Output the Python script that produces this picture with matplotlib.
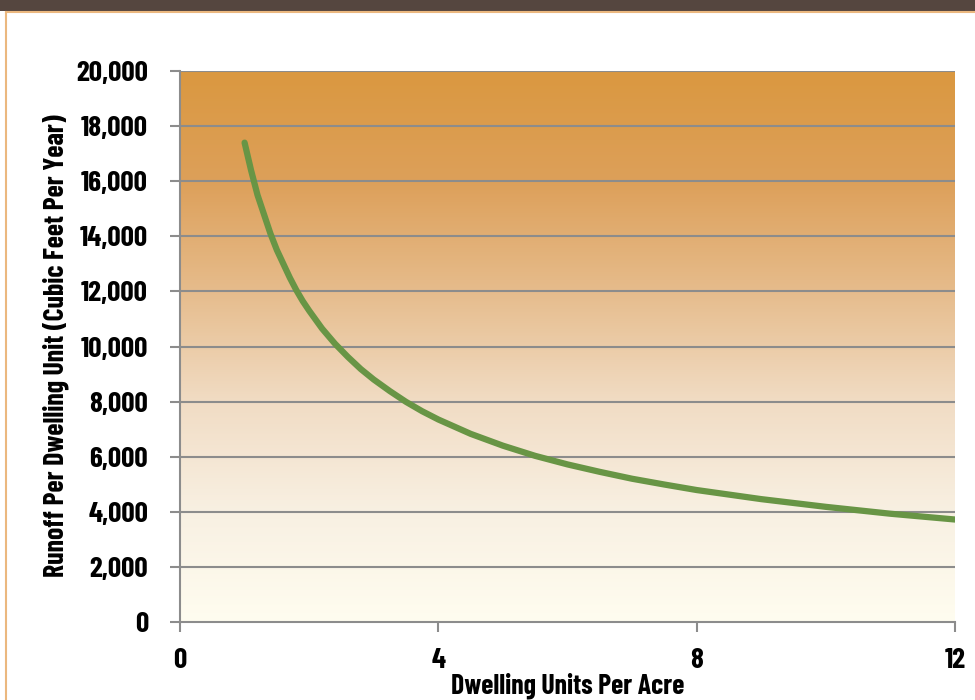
import numpy as np
import matplotlib
matplotlib.use("Agg")
import matplotlib.pyplot as plt
from matplotlib.colors import LinearSegmentedColormap
from matplotlib.lines import Line2D
from matplotlib.patches import Rectangle

# ===== DATA =====
density = [1.0, 1.1, 1.2, 1.3, 1.4, 1.5, 1.6, 1.7, 1.8, 1.9, 2.0, 2.2, 2.4, 2.6, 2.8,
           3.0, 3.25, 3.5, 3.75, 4.0, 4.5, 5.0, 5.5, 6.0, 6.5, 7.0, 7.5, 8.0, 9.0,
           10.0, 11.0, 12.0]
runoff = [17400, 16400, 15500, 14800, 14100, 13500, 13000, 12500, 12050, 11650, 11300,
          10650, 10100, 9620, 9180, 8800, 8380, 7990, 7650, 7350, 6830, 6400, 6030,
          5720, 5450, 5200, 4990, 4790, 4460, 4180, 3930, 3720]
x_ticks = [0, 4, 8, 12]
y_ticks = list(range(0, 20001, 2000))
x_label = "Dwelling Units Per Acre"
y_label = "Runoff Per Dwelling Unit (Cubic Feet Per Year)"

FONT = ["Barlow Condensed", "DejaVu Sans"]
plt.rcParams["font.family"] = FONT
plt.rcParams["font.weight"] = "bold"

GRID = "#8c8c8c"
GREEN = "#689545"

fig = plt.figure(figsize=(9.75, 7.0), dpi=100)
fig.patch.set_facecolor("white")

# frame decorations: dark band on top, orange rule below it and down the left
fig.add_artist(Rectangle((0, 1 - 11 / 700), 1, 11 / 700, transform=fig.transFigure,
                         facecolor="#55463f", edgecolor="none"))
fig.add_artist(Line2D([6 / 975, 1], [1 - 12 / 700] * 2, transform=fig.transFigure,
                      color="#ebb87f", lw=1.5))
fig.add_artist(Line2D([6 / 975] * 2, [0, 1 - 12 / 700], transform=fig.transFigure,
                      color="#ebb87f", lw=1.5))

ax = fig.add_axes([180 / 975, 1 - 622 / 700, 775 / 975, 551 / 700])

# gradient background, orange at top fading to cream
grad = LinearSegmentedColormap.from_list("bg", [
    (0.0, "#fffdf0"), (0.2, "#f8f0e2"), (0.4, "#f1dcc4"),
    (0.6, "#e6bc8c"), (0.8, "#dda05a"), (1.0, "#da9840")])
ax.imshow(np.linspace(0, 1, 256).reshape(-1, 1), cmap=grad, aspect="auto",
          extent=[0, 12, 0, 20000], origin="lower", zorder=0)

for v in y_ticks[1:]:
    ax.axhline(v, color=GRID, lw=1.5, zorder=1)

ax.plot(density, runoff, color=GREEN, lw=4.5, solid_capstyle="round",
        solid_joinstyle="round", zorder=3)

ax.set_xlim(0, 12)
ax.set_ylim(0, 20000)
ax.set_xticks(x_ticks)
ax.set_yticks(y_ticks)
ax.set_yticklabels([f"{v:,}" for v in y_ticks])
for s in ("top", "right"):
    ax.spines[s].set_visible(False)
for s in ("left", "bottom"):
    ax.spines[s].set_color(GRID)
    ax.spines[s].set_linewidth(1.5)
ax.tick_params(axis="both", colors=GRID, width=1.5, length=7, labelcolor="black",
               labelsize=21)
ax.tick_params(axis="y", pad=16)
ax.tick_params(axis="x", pad=12)
for t in ax.get_xticklabels() + ax.get_yticklabels():
    t.set_fontweight("bold")

fig.text(568 / 975, 1 - 686 / 700, x_label, ha="center", va="center",
         fontsize=20, fontweight="bold")
fig.text(56 / 975, 1 - 346 / 700, y_label, ha="center", va="center",
         rotation=90, fontsize=20, fontweight="bold")

fig.savefig("out.png", dpi=100)
